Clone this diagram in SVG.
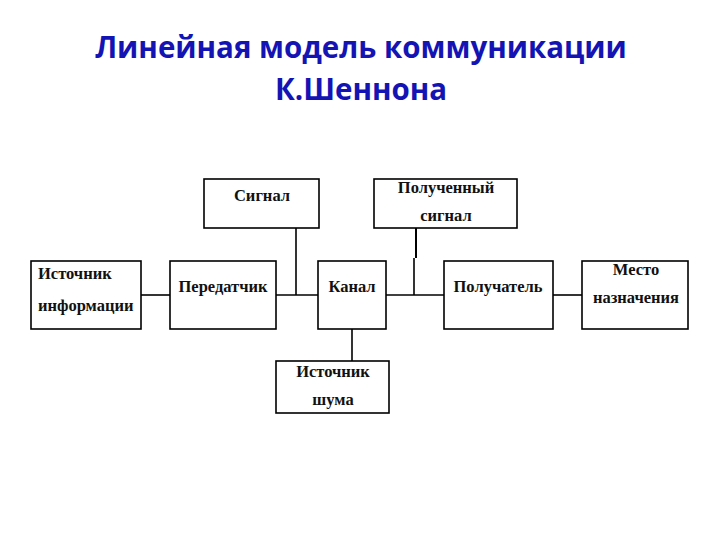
<svg xmlns="http://www.w3.org/2000/svg" width="720" height="540" viewBox="0 0 720 540">
<style>
.box{fill:#fff;stroke:#000;stroke-width:1.6}
.t{font-family:"Liberation Serif","Times New Roman",serif;font-weight:bold;font-size:16.5px;fill:#111;text-anchor:middle}
.l{text-anchor:start}
.c{stroke:#000;stroke-width:1.6;fill:none}
.title{font-family:"Open Sans","Liberation Sans",sans-serif;font-weight:bold;font-size:29.5px;fill:#1414b4;text-anchor:middle}
</style>
<rect width="720" height="540" fill="#fff"/>
<text class="title" x="361" y="58">Линейная модель коммуникации</text>
<text class="title" x="361" y="100">К.Шеннона</text>
<g id="connectors">
<line class="c" x1="141" y1="295" x2="170" y2="295"/>
<line class="c" x1="276" y1="295" x2="318" y2="295"/>
<line class="c" x1="386" y1="295" x2="444" y2="295"/>
<line class="c" x1="553" y1="295" x2="582" y2="295"/>
<line class="c" x1="296" y1="228" x2="296" y2="295"/>
<line class="c" x1="416" y1="228" x2="416" y2="258" style="stroke-width:2"/>
<line class="c" x1="414" y1="258" x2="414" y2="295"/>
<line class="c" x1="352" y1="329" x2="352" y2="361"/>
</g>
<g id="signal"><rect class="box" x="204" y="179" width="115" height="49"/><text class="t" x="262" y="201">Сигнал</text></g>
<g id="received"><rect class="box" x="374" y="179" width="143" height="49"/><text class="t" x="446" y="193">Полученный</text><text class="t" x="446" y="221">сигнал</text></g>
<g id="source"><rect class="box" x="31" y="261" width="110" height="68"/><text class="t l" x="38" y="279">Источник</text><text class="t l" x="38" y="311">информации</text></g>
<g id="transmitter"><rect class="box" x="170" y="261" width="106" height="68"/><text class="t" x="223" y="292">Передатчик</text></g>
<g id="channel"><rect class="box" x="318" y="261" width="68" height="68"/><text class="t" x="352" y="292">Канал</text></g>
<g id="receiver"><rect class="box" x="444" y="261" width="109" height="68"/><text class="t" x="498" y="292">Получатель</text></g>
<g id="destination"><rect class="box" x="582" y="261" width="106" height="68"/><text class="t" x="636" y="275">Место</text><text class="t" x="636" y="303">назначения</text></g>
<g id="noise"><rect class="box" x="276" y="361" width="113" height="52"/><text class="t" x="333" y="377">Источник</text><text class="t" x="333" y="405">шума</text></g>
</svg>
